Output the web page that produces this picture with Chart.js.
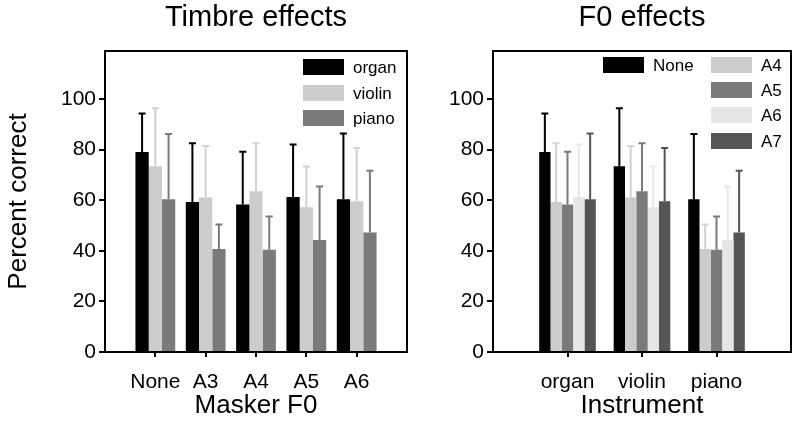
<!DOCTYPE html>
<html lang="en">
  <head>
    <meta charset="UTF-8" />
    <title>Timbre and F0 effects</title>
    <script src="https://cdn.jsdelivr.net/npm/chart.js"></script>
    <style>
      body {
        margin: 0;
        background: #fff;
      }
      .wrap {
        position: relative;
        width: 800px;
        height: 447px;
      }
      #timbreChart {
        position: absolute;
        left: 0;
        top: 0;
      }
      #f0Chart {
        position: absolute;
        left: 420px;
        top: 0;
      }
    </style>
  </head>
  <body>
    <div class="wrap">
      <canvas id="timbreChart" width="420" height="447"></canvas>
      <canvas id="f0Chart" width="380" height="447"></canvas>
    </div>

    <script>
      // values (percent correct, mean and upper error bar)
      const maskers = ["None", "A3", "A4", "A5", "A6"];
      const f0Series = ["None", "A4", "A5", "A6", "A7"];
      const instruments = ["organ", "violin", "piano"];
      const organMean = [79.1, 59.3, 58.3, 61.3, 60.4];
      const violinMean = [73.4, 61.1, 63.6, 57.2, 59.6];
      const pianoMean = [60.4, 40.7, 40.4, 44.3, 47.2];
      const organSD = [15.2, 23.2, 20.9, 20.7, 26.0];
      const violinSD = [23.0, 20.3, 18.9, 16.1, 21.1];
      const pianoSD = [25.8, 9.7, 13.2, 21.1, 24.5];
      const yTicks = [0, 20, 40, 60, 80, 100];

      const font = '"Liberation Sans", Arial, sans-serif';
      Chart.defaults.font.family = font;
      Chart.defaults.color = "#000";

      // pad with an empty slot on each side so the groups sit one step in
      const pad = (arr) => [null, ...arr, null];

      // upward error bars with caps
      const errorBars = {
        id: "errorBars",
        afterDatasetsDraw(chart) {
          const ctx = chart.ctx;
          const y = chart.scales.y;
          chart.data.datasets.forEach((ds, i) => {
            const meta = chart.getDatasetMeta(i);
            meta.data.forEach((bar, j) => {
              const v = ds.data[j];
              if (v == null) return;
              const top = y.getPixelForValue(v + ds.errors[j]);
              ctx.save();
              ctx.strokeStyle = ds.errColor;
              ctx.lineWidth = 2;
              ctx.beginPath();
              ctx.moveTo(bar.x, bar.y);
              ctx.lineTo(bar.x, top);
              ctx.moveTo(bar.x - 3.5, top);
              ctx.lineTo(bar.x + 3.5, top);
              ctx.stroke();
              ctx.restore();
            });
          });
        },
      };

      // box round the plot area plus the legend inside it
      const frameAndKey = {
        id: "frameAndKey",
        afterDraw(chart, args, opts) {
          const ctx = chart.ctx;
          const a = chart.chartArea;
          ctx.save();
          ctx.strokeStyle = "#000";
          ctx.lineWidth = 2;
          ctx.strokeRect(a.left, a.top, a.right - a.left, a.bottom - a.top);
          ctx.font = "17px " + font;
          ctx.textBaseline = "middle";
          chart.data.datasets.forEach((ds, i) => {
            const p = opts.spots[i];
            ctx.fillStyle = ds.backgroundColor;
            ctx.fillRect(p[0], p[1] - 8, 41, 16);
            ctx.fillStyle = "#000";
            ctx.fillText(ds.label, p[0] + 50, p[1] + 1);
          });
          ctx.restore();
        },
      };

      function keepTicks(scale) {
        scale.ticks = scale.ticks.filter((t) => yTicks.includes(t.value));
      }

      function dropEnds(scale) {
        const n = scale.chart.data.labels.length;
        scale.ticks = scale.ticks.filter((t) => t.value > 0 && t.value < n - 1);
      }

      function makeOptions(title, xTitle, yTitle, yWidth, rightPad, spots) {
        return {
          responsive: false,
          animation: false,
          layout: { padding: { right: rightPad } },
          plugins: {
            legend: { display: false },
            tooltip: { enabled: false },
            title: {
              display: true,
              text: title,
              fullSize: false,
              font: { size: 29, weight: "normal" },
              padding: { top: 1, bottom: 15.2 },
            },
            frameAndKey: { spots: spots },
          },
          scales: {
            x: {
              offset: false,
              afterBuildTicks: dropEnds,
              afterFit: (s) => (s.height = 95),
              grid: {
                offset: false,
                drawOnChartArea: false,
                color: "#000",
                lineWidth: 2,
                tickLength: 5,
              },
              border: { color: "#000", width: 2 },
              ticks: { font: { size: 21 }, padding: 13, maxRotation: 0, autoSkip: false },
              title: {
                display: true,
                text: xTitle,
                font: { size: 26 },
                padding: { bottom: 25.4 },
              },
            },
            y: {
              min: 0,
              max: 119,
              afterBuildTicks: keepTicks,
              afterFit: (s) => (s.width = yWidth),
              grid: {
                drawOnChartArea: false,
                color: "#000",
                lineWidth: 2,
                tickLength: 6,
              },
              border: { color: "#000", width: 2 },
              ticks: { font: { size: 21 }, padding: 3, stepSize: 20 },
              title: {
                display: !!yTitle,
                text: yTitle,
                font: { size: 26 },
                padding: { top: 3 },
              },
            },
          },
        };
      }

      // left panel: bars per masker F0, one series per instrument
      const timbreColors = ["#000000", "#cccccc", "#7a7a7a"];
      const timbreErr = ["#000000", "#d2d2d2", "#7a7a7a"];
      const means = [organMean, violinMean, pianoMean];
      const sds = [organSD, violinSD, pianoSD];

      new Chart(document.getElementById("timbreChart"), {
        type: "bar",
        data: {
          labels: pad(maskers).map((l) => l || ""),
          datasets: instruments.map((name, i) => ({
            label: name,
            data: pad(means[i]),
            errors: pad(sds[i]),
            backgroundColor: timbreColors[i],
            errColor: timbreErr[i],
            borderWidth: 0,
            categoryPercentage: 0.79,
            barPercentage: 1,
          })),
        },
        options: makeOptions("Timbre effects", "Masker F0", "Percent correct", 105, 13, [
          [303, 67],
          [303, 93],
          [303, 118],
        ]),
        plugins: [errorBars, frameAndKey],
      });

      // right panel: the same results grouped by instrument, one series per F0
      const f0Colors = ["#000000", "#cccccc", "#7a7a7a", "#e6e6e6", "#555555"];
      const f0Err = ["#000000", "#d2d2d2", "#7a7a7a", "#e8e8e8", "#555555"];

      new Chart(document.getElementById("f0Chart"), {
        type: "bar",
        data: {
          labels: pad(instruments).map((l) => l || ""),
          datasets: f0Series.map((name, j) => ({
            label: name,
            data: pad(means.map((m) => m[j])),
            errors: pad(sds.map((s) => s[j])),
            backgroundColor: f0Colors[j],
            errColor: f0Err[j],
            borderWidth: 0,
            categoryPercentage: 0.76,
            barPercentage: 1,
          })),
        },
        options: makeOptions("F0 effects", "Instrument", "", 73, 9, [
          [183, 65],
          [291, 65],
          [291, 90],
          [291, 115],
          [291, 141],
        ]),
        plugins: [errorBars, frameAndKey],
      });
    </script>
  </body>
</html>
